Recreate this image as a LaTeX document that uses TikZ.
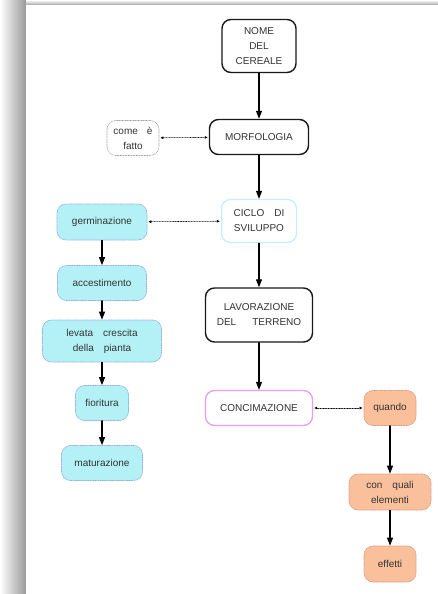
\documentclass[tikz,border=0pt]{standalone}
\usepackage{fontspec}
\setmainfont{Liberation Sans}
\usetikzlibrary{arrows.meta}

\begin{document}
\begin{tikzpicture}[x=1pt,y=-1pt,line cap=round,
    every node/.style={font=\fontsize{10}{15}\selectfont,align=center,text=black!80,rounded corners=9pt},
    mainbox/.style={draw=black!90,line width=1.4pt,fill=white},
    notebox/.style={draw=black!40,densely dotted,line width=0.6pt},
    cyclebox/.style={draw=cycleline,line width=1.3pt,fill=white},
    phasebox/.style={draw=phaseline,densely dotted,line width=0.7pt,fill=phasefill},
    fertbox/.style={draw=fertline,line width=1.3pt,fill=white},
    askbox/.style={draw=askline,densely dotted,line width=0.7pt,fill=askfill},
    flow/.style={line width=1.1pt,-{Triangle[width=6pt,length=8pt]}},
    link/.style={densely dotted,line width=0.6pt,{Latex[length=3pt,width=3pt]}-{Latex[length=3pt,width=3pt]},shorten <=1pt,shorten >=1pt}]

    \colorlet{cycleline}{cyan!22}
    \colorlet{phaseline}{cyan!50!blue!45}
    \definecolor{phasefill}{RGB}{180,241,246}
    \definecolor{fertline}{RGB}{228,160,236}
    \definecolor{askline}{RGB}{222,150,130}
    \definecolor{askfill}{RGB}{250,192,156}

    \useasboundingbox (0,0) rectangle (438,594);

    % Page shadow
    \shade[left color=white,right color=black!40] (0,0) rectangle (26,594);
    \shade[top color=white,bottom color=black!35] (26,0) rectangle (438,5);
    \fill[white] (26,5) rectangle (438,594);

    % Main chain
    \node[mainbox,minimum width=74pt,minimum height=53pt] (nome) at (259,46) {NOME\\DEL\\CEREALE};
    \node[mainbox,minimum width=99pt,minimum height=35pt] (morf) at (259,137) {MORFOLOGIA};
    \node[cyclebox,minimum width=75pt,minimum height=43pt] (ciclo) at (259,221) {CICLO\hspace{1em}DI\\SVILUPPO};
    \node[mainbox,minimum width=107pt,minimum height=54pt] (lavor) at (259,315) {LAVORAZIONE\\DEL\hspace{1.6em}TERRENO};
    \node[fertbox,minimum width=107pt,minimum height=35pt] (conc) at (259,408) {CONCIMAZIONE};

    % Side note
    \node[notebox,minimum width=52pt,minimum height=35pt] (come) at (133,138) {come\hspace{0.9em}è\\fatto};

    % Growth phases
    \node[phasebox,minimum width=90pt,minimum height=36pt] (germ) at (102,222) {germinazione};
    \node[phasebox,minimum width=89pt,minimum height=35pt] (acc) at (102,283) {accestimento};
    \node[phasebox,minimum width=119pt,minimum height=42pt] (levata) at (102,341) {levata\hspace{1em}crescita\\della\hspace{1em}pianta};
    \node[phasebox,minimum width=53pt,minimum height=35pt] (fior) at (102,403) {fioritura};
    \node[phasebox,minimum width=81pt,minimum height=35pt] (matur) at (102,463) {maturazione};

    % Fertilising questions
    \node[askbox,minimum width=52pt,minimum height=35pt] (quando) at (390,408) {quando};
    \node[askbox,minimum width=82pt,minimum height=36pt] (quali) at (390,492) {con\hspace{1em}quali\\elementi};
    \node[askbox,minimum width=52pt,minimum height=36pt] (effetti) at (390,564) {effetti};

    % Solid arrows
    \draw[flow] (nome) -- (morf);
    \draw[flow] (morf) -- (ciclo);
    \draw[flow] (ciclo) -- (lavor);
    \draw[flow] (lavor) -- (conc);
    \draw[flow] (germ) -- (acc);
    \draw[flow] (acc) -- (levata);
    \draw[flow] (levata) -- (fior);
    \draw[flow] (fior) -- (matur);
    \draw[flow] (quando) -- (quali);
    \draw[flow] (quali) -- (effetti);

    % Dotted links
    \draw[link] (come) -- (morf);
    \draw[link] (germ) -- (ciclo);
    \draw[link] (conc) -- (quando);

\end{tikzpicture}
\end{document}
